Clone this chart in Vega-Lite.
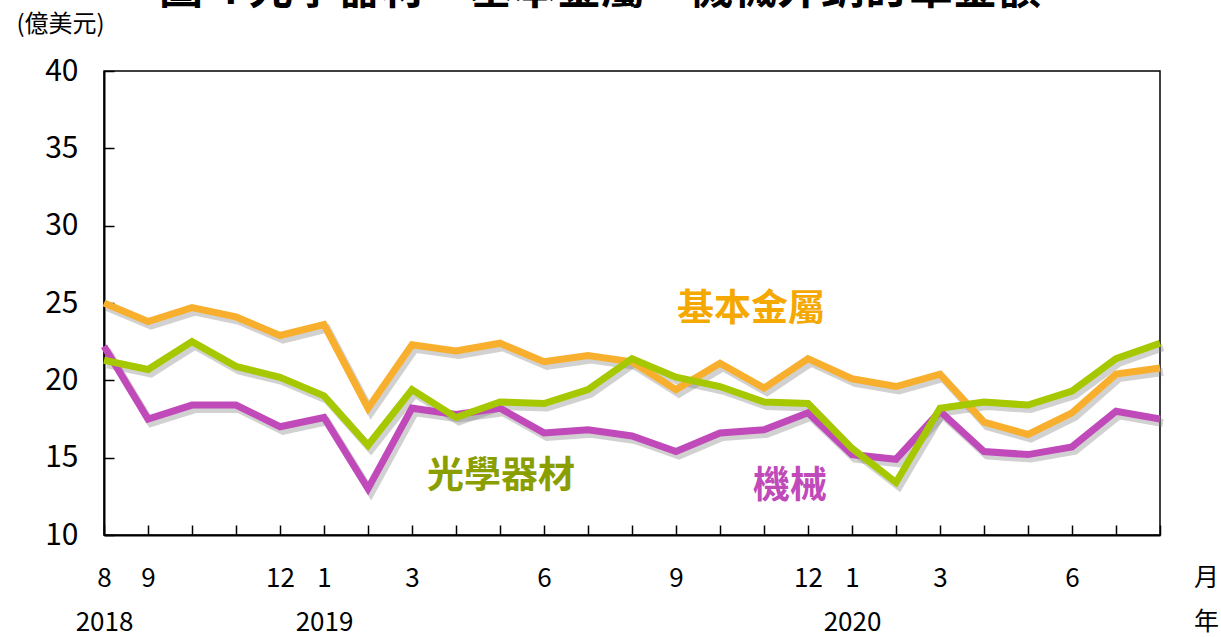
{
  "$schema": "https://vega.github.io/schema/vega-lite/v6.json",
  "width": 1056,
  "height": 464,
  "autosize": {"type": "none"},
  "padding": {"left": 104, "top": 71, "right": 61, "bottom": 102},
  "background": "white",
  "config": {
    "view": {"stroke": "black", "strokeWidth": 1.5},
    "font": "Noto Sans CJK TC"
  },
  "title": {
    "text": "圖 4  光學器材、基本金屬、機械外銷訂單金額",
    "fontSize": 44,
    "fontWeight": "bold",
    "color": "black",
    "anchor": "middle",
    "frame": "group",
    "baseline": "alphabetic",
    "offset": 0,
    "dx": -32,
    "dy": 36
  },
  "datasets": {
    "series": [
      {"month": "2018-08", "series": "機械", "value": 22.2},
      {"month": "2018-09", "series": "機械", "value": 17.5},
      {"month": "2018-10", "series": "機械", "value": 18.4},
      {"month": "2018-11", "series": "機械", "value": 18.4},
      {"month": "2018-12", "series": "機械", "value": 17.0},
      {"month": "2019-01", "series": "機械", "value": 17.6},
      {"month": "2019-02", "series": "機械", "value": 13.0},
      {"month": "2019-03", "series": "機械", "value": 18.2},
      {"month": "2019-04", "series": "機械", "value": 17.8},
      {"month": "2019-05", "series": "機械", "value": 18.2},
      {"month": "2019-06", "series": "機械", "value": 16.6},
      {"month": "2019-07", "series": "機械", "value": 16.8},
      {"month": "2019-08", "series": "機械", "value": 16.4},
      {"month": "2019-09", "series": "機械", "value": 15.4},
      {"month": "2019-10", "series": "機械", "value": 16.6},
      {"month": "2019-11", "series": "機械", "value": 16.8},
      {"month": "2019-12", "series": "機械", "value": 17.9},
      {"month": "2020-01", "series": "機械", "value": 15.2},
      {"month": "2020-02", "series": "機械", "value": 14.9},
      {"month": "2020-03", "series": "機械", "value": 18.0},
      {"month": "2020-04", "series": "機械", "value": 15.4},
      {"month": "2020-05", "series": "機械", "value": 15.2},
      {"month": "2020-06", "series": "機械", "value": 15.7},
      {"month": "2020-07", "series": "機械", "value": 18.0},
      {"month": "2020-08", "series": "機械", "value": 17.5},
      {"month": "2018-08", "series": "基本金屬", "value": 25.0},
      {"month": "2018-09", "series": "基本金屬", "value": 23.8},
      {"month": "2018-10", "series": "基本金屬", "value": 24.7},
      {"month": "2018-11", "series": "基本金屬", "value": 24.1},
      {"month": "2018-12", "series": "基本金屬", "value": 22.9},
      {"month": "2019-01", "series": "基本金屬", "value": 23.6},
      {"month": "2019-02", "series": "基本金屬", "value": 18.2},
      {"month": "2019-03", "series": "基本金屬", "value": 22.3},
      {"month": "2019-04", "series": "基本金屬", "value": 21.9},
      {"month": "2019-05", "series": "基本金屬", "value": 22.4},
      {"month": "2019-06", "series": "基本金屬", "value": 21.2},
      {"month": "2019-07", "series": "基本金屬", "value": 21.6},
      {"month": "2019-08", "series": "基本金屬", "value": 21.2},
      {"month": "2019-09", "series": "基本金屬", "value": 19.4},
      {"month": "2019-10", "series": "基本金屬", "value": 21.1},
      {"month": "2019-11", "series": "基本金屬", "value": 19.5},
      {"month": "2019-12", "series": "基本金屬", "value": 21.4},
      {"month": "2020-01", "series": "基本金屬", "value": 20.1},
      {"month": "2020-02", "series": "基本金屬", "value": 19.6},
      {"month": "2020-03", "series": "基本金屬", "value": 20.4},
      {"month": "2020-04", "series": "基本金屬", "value": 17.3},
      {"month": "2020-05", "series": "基本金屬", "value": 16.5},
      {"month": "2020-06", "series": "基本金屬", "value": 17.9},
      {"month": "2020-07", "series": "基本金屬", "value": 20.4},
      {"month": "2020-08", "series": "基本金屬", "value": 20.8},
      {"month": "2018-08", "series": "光學器材", "value": 21.3},
      {"month": "2018-09", "series": "光學器材", "value": 20.7},
      {"month": "2018-10", "series": "光學器材", "value": 22.5},
      {"month": "2018-11", "series": "光學器材", "value": 20.9},
      {"month": "2018-12", "series": "光學器材", "value": 20.2},
      {"month": "2019-01", "series": "光學器材", "value": 19.0},
      {"month": "2019-02", "series": "光學器材", "value": 15.8},
      {"month": "2019-03", "series": "光學器材", "value": 19.4},
      {"month": "2019-04", "series": "光學器材", "value": 17.6},
      {"month": "2019-05", "series": "光學器材", "value": 18.6},
      {"month": "2019-06", "series": "光學器材", "value": 18.5},
      {"month": "2019-07", "series": "光學器材", "value": 19.4},
      {"month": "2019-08", "series": "光學器材", "value": 21.4},
      {"month": "2019-09", "series": "光學器材", "value": 20.2},
      {"month": "2019-10", "series": "光學器材", "value": 19.6},
      {"month": "2019-11", "series": "光學器材", "value": 18.6},
      {"month": "2019-12", "series": "光學器材", "value": 18.5},
      {"month": "2020-01", "series": "光學器材", "value": 15.6},
      {"month": "2020-02", "series": "光學器材", "value": 13.4},
      {"month": "2020-03", "series": "光學器材", "value": 18.2},
      {"month": "2020-04", "series": "光學器材", "value": 18.6},
      {"month": "2020-05", "series": "光學器材", "value": 18.4},
      {"month": "2020-06", "series": "光學器材", "value": 19.3},
      {"month": "2020-07", "series": "光學器材", "value": 21.4},
      {"month": "2020-08", "series": "光學器材", "value": 22.4}
    ]
  },
  "encoding": {
    "x": {
      "field": "month",
      "type": "ordinal",
      "scale": {"type": "point", "padding": 0},
      "axis": {
        "title": ["月", "年"],
        "titleX": 1102,
        "titleY": 30,
        "titleFontSize": 25,
        "titleFontWeight": "normal",
        "titleLineHeight": 44,
        "titleBaseline": "top",
        "titleAlign": "center",
        "titleColor": "black",
        "labelAngle": 0,
        "labelFontSize": 26,
        "labelLineHeight": 44,
        "labelBaseline": "top",
        "labelAlign": "center",
        "labelPadding": 40,
        "labelColor": "black",
        "tickSize": -10,
        "tickColor": "black",
        "tickWidth": 1.5,
        "domainColor": "black",
        "domainWidth": 2,
        "grid": false,
        "labelExpr": "datum.value == '2018-08' ? ['8','2018'] : datum.value == '2019-01' ? ['1','2019'] : datum.value == '2020-01' ? ['1','2020'] : (indexof([9,12,3,6], toNumber(slice(datum.value,5))) >= 0 ? '' + toNumber(slice(datum.value,5)) : '')"
      }
    },
    "y": {
      "field": "value",
      "type": "quantitative",
      "scale": {"domain": [10, 40], "nice": false, "zero": false},
      "axis": {
        "values": [10, 15, 20, 25, 30, 35, 40],
        "title": "(億美元)",
        "titleAngle": 0,
        "titleX": -44,
        "titleY": -47,
        "titleAlign": "center",
        "titleBaseline": "middle",
        "titleFontSize": 24,
        "titleFontWeight": "normal",
        "titleColor": "black",
        "labelFontSize": 30,
        "labelPadding": 36,
        "labelColor": "black",
        "labelBaseline": "middle",
        "tickSize": -10,
        "tickColor": "black",
        "tickWidth": 1.5,
        "domainColor": "black",
        "domainWidth": 2,
        "grid": false
      }
    }
  },
  "layer": [
    {
      "data": {"name": "series"},
      "mark": {"type": "line", "stroke": "#7a7a7a", "strokeWidth": 8, "opacity": 0.35, "xOffset": 3, "yOffset": 4, "strokeJoin": "miter"},
      "encoding": {"detail": {"field": "series"}}
    },
    {
      "data": {"name": "series"},
      "mark": {"type": "line", "strokeWidth": 7, "strokeJoin": "miter"},
      "encoding": {
        "color": {
          "field": "series",
          "type": "nominal",
          "sort": null,
          "scale": {"domain": ["機械", "基本金屬", "光學器材"], "range": ["#C04AB9", "#F9AF2E", "#A6C800"]},
          "legend": null
        }
      }
    },
    {
      "data": {"values": [{"month": "2019-11", "value": 24.55, "label": "基本金屬"}]},
      "mark": {"type": "text", "fontSize": 37, "fontWeight": "bold", "color": "#F5A800", "dx": -13, "align": "center", "baseline": "middle"},
      "encoding": {"text": {"field": "label"}}
    },
    {
      "data": {"values": [{"month": "2019-05", "value": 13.75, "label": "光學器材"}]},
      "mark": {"type": "text", "fontSize": 37, "fontWeight": "bold", "color": "#8A9E00", "dx": 1, "align": "center", "baseline": "middle"},
      "encoding": {"text": {"field": "label"}}
    },
    {
      "data": {"values": [{"month": "2019-11", "value": 13.1, "label": "機械"}]},
      "mark": {"type": "text", "fontSize": 37, "fontWeight": "bold", "color": "#C04AB9", "dx": 26, "align": "center", "baseline": "middle"},
      "encoding": {"text": {"field": "label"}}
    }
  ]
}
